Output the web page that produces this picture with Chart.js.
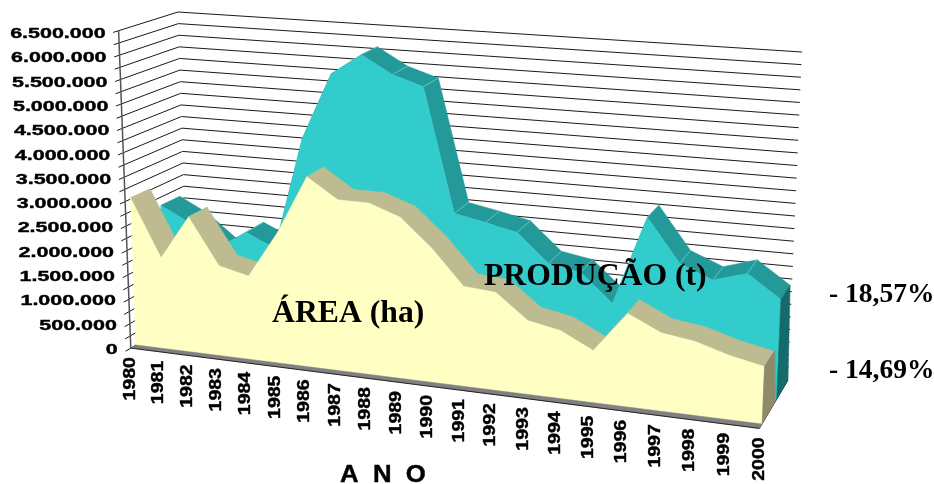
<!DOCTYPE html>
<html>
<head>
<meta charset="utf-8">
<title>Área e produção</title>
<style>
html, body { margin: 0; padding: 0; background: #fff; }
canvas { display: block; }
</style>
<script src="https://cdn.jsdelivr.net/npm/chart.js@4"></script>
</head>
<body>
<canvas id="myChart" width="934" height="484"></canvas>
<script>
var years = ['1980','1981','1982','1983','1984','1985','1986','1987','1988','1989','1990','1991','1992','1993','1994','1995','1996','1997','1998','1999','2000'];
var areaValues = [3030000,1860000,2760000,1830000,1690000,2630000,3820000,3420000,3420000,3200000,2650000,1970000,1920000,1440000,1320000,1010000,1800000,1500000,1410000,1220000,1090000];
var productionValues = [2580000,2270000,1800000,2190000,1920000,4250000,5640000,6080000,5720000,5520000,3000000,2880000,2740000,2180000,2070000,1520000,3290000,2440000,2180000,2380000,1940000];
var valueTicks = [0,500000,1000000,1500000,2000000,2500000,3000000,3500000,4000000,4500000,5000000,5500000,6000000,6500000];
var gridValues = [0,250000,500000,750000,1000000,1250000,1500000,1750000,2000000,2250000,2500000,2750000,3000000,3250000,3500000,3750000,4000000,4250000,4500000,4750000,5000000,5250000,5500000,5750000,6000000,6250000,6500000];

var MAX_VALUE = 6500000;
var PERSPECTIVE = 1.118;

// corners of the 3D box, in screen pixels: [x, y]
var box = {
    frontLeftBottom: [136, 345], frontRightBottom: [762, 424],
    frontLeftTop: [124, 29], frontRightTop: [777, 81],
    backLeftBottom: [188, 314], backRightBottom: [788, 380],
    backLeftTop: [178, 12], backRightTop: [802, 52]
};

// depth of each thing inside the box, 0 = front and 1 = back wall
var axisDepth = -0.1;
var tickDepth = -0.2;
var areaFront = 0, areaBack = 0.37, areaSideBack = 0.5;
var prodFront = 0.56, prodBack = 0.92;

var CREAM = '#ffffc4', TAN = '#bdbb8f', TAN_SIDE = '#8f8b68';
var CYAN = '#33cccc', TEAL = '#249999', TEAL_SIDE = '#146b6b';

function toYear(px) { return 1980 + (px - 130) / 31.6; }
function toValue(py) { return (350 - py) * MAX_VALUE / 316; }
function lerp(a, b, t) { return a + (b - a) * t; }

function project(i, z, value) {
    var t = i / (years.length - 1);
    var g = t / (t + PERSPECTIVE * (1 - t));
    var v = value / MAX_VALUE;
    var out = [0, 1].map(function (k) {
        var bottomFront = lerp(box.frontLeftBottom[k], box.frontRightBottom[k], g);
        var bottomBack = lerp(box.backLeftBottom[k], box.backRightBottom[k], g);
        var topFront = lerp(box.frontLeftTop[k], box.frontRightTop[k], g);
        var topBack = lerp(box.backLeftTop[k], box.backRightTop[k], g);
        return lerp(lerp(bottomFront, bottomBack, z), lerp(topFront, topBack, z), v);
    });
    return { x: toYear(out[0]), y: toValue(out[1]) };
}

var datasets = [];
function addLine(points, color, width) {
    datasets.push({
        data: points, showLine: true, fill: false, pointRadius: 0,
        borderColor: color, borderWidth: width, tension: 0
    });
}
function addShape(points, color) {
    datasets.push({
        data: points.concat([points[0]]), showLine: true, fill: 'shape', pointRadius: 0,
        backgroundColor: color, borderColor: color, borderWidth: 0.5, tension: 0
    });
}

// one solid band of the 3D area: roof strips first, then the front face
function addBand(values, zFront, zBack, roof, face, seam) {
    var i;
    for (i = 0; i < values.length - 1; i++) {
        addShape([project(i, zFront, values[i]), project(i + 1, zFront, values[i + 1]),
            project(i + 1, zBack, values[i + 1]), project(i, zBack, values[i])], roof);
    }
    for (i = 1; i < values.length - 1; i++) {
        addLine([project(i, zFront, values[i]), project(i, zBack, values[i])], seam, 0.6);
    }
    var pts = values.map(function (v, k) { return project(k, zFront, v); });
    pts.push(project(values.length - 1, zFront, 0));
    pts.push(project(0, zFront, 0));
    addShape(pts, face);
}

var last = years.length - 1;

// walls
gridValues.forEach(function (v) {
    addLine([project(0, tickDepth, v), project(0, 1, v), project(last, 1, v)], '#1a1a1a', 1);
});
addLine([project(0, axisDepth, 0), project(0, axisDepth, MAX_VALUE)], '#555555', 1.5);
addLine([project(last, axisDepth, 0), project(last, 1, 0)], '#000000', 1);

// produção
addBand(productionValues, prodFront, prodBack, TEAL, CYAN, '#6fdcdc');
addShape([project(last, prodFront, productionValues[last]), project(last, prodBack, productionValues[last]),
    project(last, 1, 0), project(last, prodFront, 0)], TEAL_SIDE);

// área
addBand(areaValues, areaFront, areaBack, TAN, CREAM, '#8fd0b0');
addShape([project(last, areaFront, areaValues[last]), project(last, areaBack, areaValues[last]),
    project(last, areaSideBack, 0), project(last, areaFront, 0)], TAN_SIDE);

// floor edge
addShape([project(0, areaFront, 0), project(last, areaFront, 0),
    project(last, axisDepth, 0), project(0, axisDepth, 0)], '#808080');
addLine([project(0, axisDepth, 0), project(last, axisDepth, 0)], '#222222', 1);

datasets.forEach(function (d, k) { d.order = datasets.length - k; });

function formatTick(v) {
    return String(v).replace(/\B(?=(\d{3})+$)/g, '.');
}

// the sans labels in the picture are wide and heavy, hence the stretch and thin stroke
function stretchedText(ctx, text, x, y, stretch, angle, align) {
    ctx.save();
    ctx.translate(x, y);
    ctx.rotate(angle);
    ctx.scale(stretch, 1);
    ctx.textAlign = align;
    ctx.lineWidth = 0.4;
    ctx.strokeText(text, 0, 0);
    ctx.fillText(text, 0, 0);
    ctx.restore();
}

var labelsPlugin = {
    id: 'labels3d',
    afterDatasetsDraw: function (chart) {
        var ctx = chart.ctx, xs = chart.scales.x, ys = chart.scales.y;
        ctx.save();
        ctx.fillStyle = '#000';
        ctx.strokeStyle = '#000';

        // value axis, follows the slanted left edge
        ctx.font = 'bold 14.5px "Liberation Sans"';
        ctx.textBaseline = 'middle';
        ys.ticks.forEach(function (tick) {
            var p = project(0, axisDepth, tick.value);
            stretchedText(ctx, formatTick(tick.value), xs.getPixelForValue(p.x) - 13,
                ys.getPixelForValue(tick.value), 1.48, 0, 'right');
        });

        // years, hanging under the floor edge
        ctx.font = 'bold 16px "Liberation Sans"';
        years.forEach(function (year, i) {
            var p = project(i, axisDepth, 0);
            stretchedText(ctx, year, xs.getPixelForValue(p.x), ys.getPixelForValue(p.y) + 9,
                1.22, -Math.PI / 2, 'right');
        });

        ctx.textBaseline = 'alphabetic';
        ctx.font = 'bold 23px "Liberation Sans"';
        stretchedText(ctx, 'A  N  O', 340, 482, 1.12, 0, 'left');

        ctx.textAlign = 'left';
        ctx.font = 'bold 31.7px "Liberation Serif"';
        ctx.fillText('ÁREA (ha)', 272, 322);
        ctx.fillText('PRODUÇÃO (t)', 484, 285);
        ctx.font = 'bold 27.5px "Liberation Serif"';
        ctx.fillText('- 18,57%', 829, 302);
        ctx.fillText('- 14,69%', 829, 378);
        ctx.restore();
    }
};

new Chart(document.getElementById('myChart').getContext('2d'), {
    type: 'scatter',
    data: { datasets: datasets },
    plugins: [labelsPlugin],
    options: {
        responsive: false,
        animation: false,
        events: [],
        layout: { padding: 0 },
        plugins: { legend: { display: false }, tooltip: { enabled: false }, title: { display: false } },
        scales: {
            x: { type: 'linear', display: false, min: toYear(0), max: toYear(934) },
            y: {
                type: 'linear', min: toValue(484), max: toValue(0),
                afterBuildTicks: function (scale) {
                    scale.ticks = valueTicks.map(function (v) { return { value: v }; });
                },
                afterFit: function (scale) { scale.width = 0; },
                ticks: { display: false },
                grid: { display: false },
                border: { display: false }
            }
        }
    }
});
</script>
</body>
</html>
